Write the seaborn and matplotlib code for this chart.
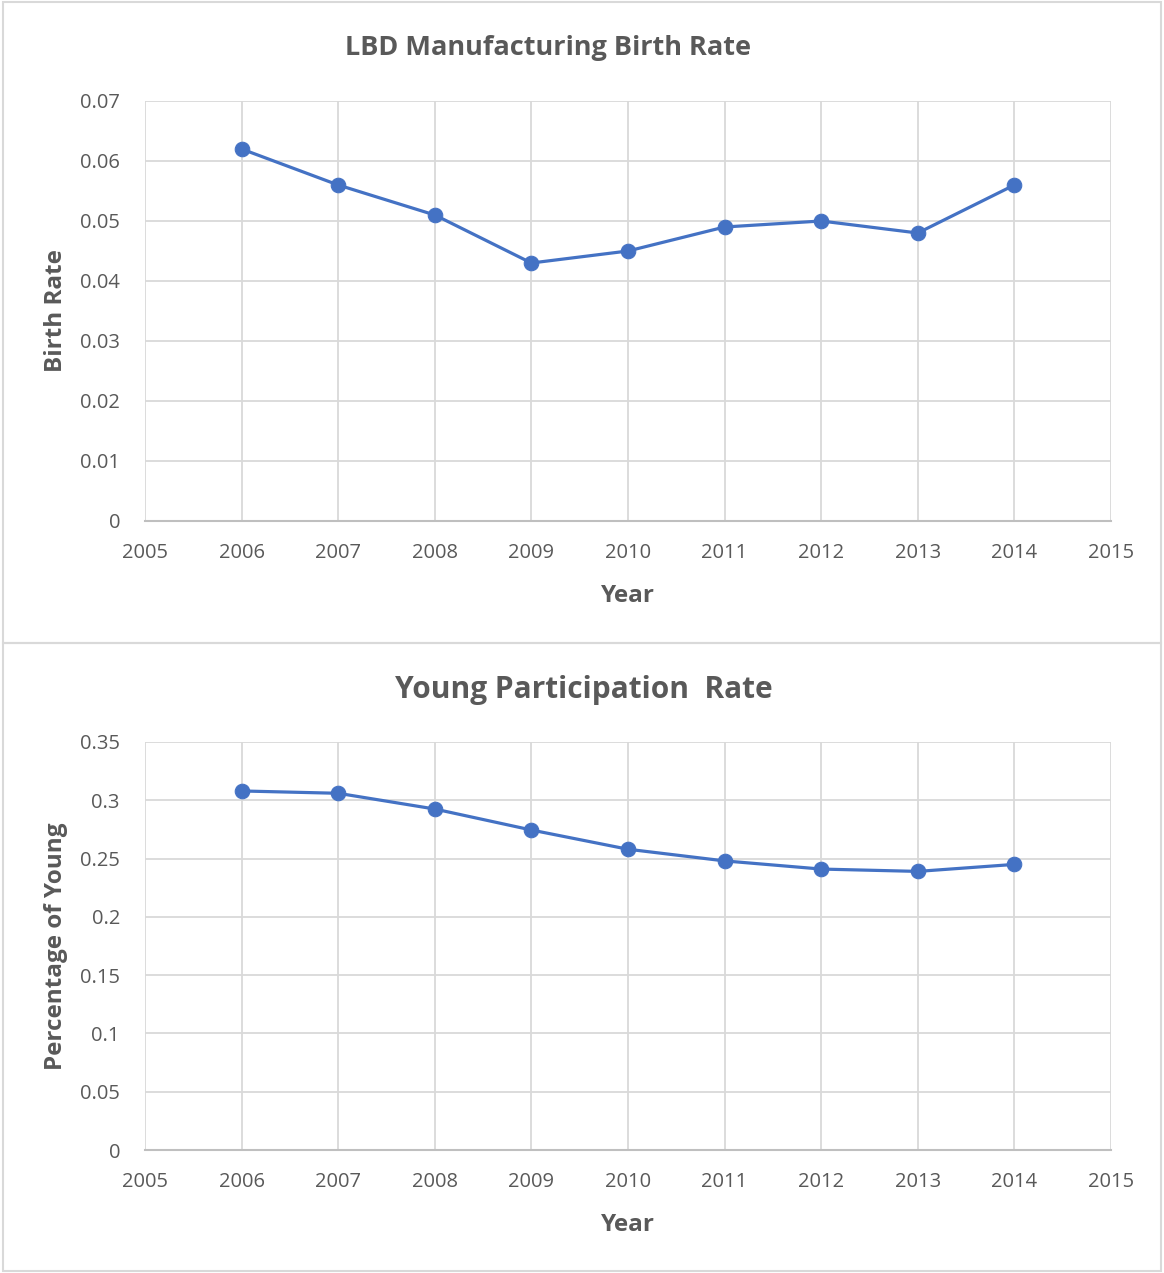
import numpy as np
import pandas as pd
import matplotlib
matplotlib.use("Agg")
import matplotlib.pyplot as plt
from matplotlib.patches import Rectangle
import seaborn as sns

# ==========================================
# DATA
# ==========================================
years = [2006, 2007, 2008, 2009, 2010, 2011, 2012, 2013, 2014]
birth_rate = [0.062, 0.056, 0.051, 0.043, 0.045, 0.049, 0.050, 0.048, 0.056]
young_rate = [0.308, 0.306, 0.2925, 0.2745, 0.258, 0.248, 0.241, 0.239, 0.245]

x_ticks = [2005, 2006, 2007, 2008, 2009, 2010, 2011, 2012, 2013, 2014, 2015]
birth_ticks = [0, 0.01, 0.02, 0.03, 0.04, 0.05, 0.06, 0.07]
birth_labels = ["0", "0.01", "0.02", "0.03", "0.04", "0.05", "0.06", "0.07"]
young_ticks = [0, 0.05, 0.1, 0.15, 0.2, 0.25, 0.3, 0.35]
young_labels = ["0", "0.05", "0.1", "0.15", "0.2", "0.25", "0.3", "0.35"]

# ==========================================
# STYLE
# ==========================================
sns.set_style("white")
plt.rcParams['font.family'] = ['Open Sans', 'DejaVu Sans']

LINE_COLOR = '#4472C4'
GRID_COLOR = '#d9d9d9'
TEXT_COLOR = '#595959'
W, H = 1164, 1273

fig = plt.figure(figsize=(W / 100, H / 100), dpi=100)


def px_axes(left, top, right, bottom):
    return fig.add_axes([left / W, 1 - bottom / H, (right - left) / W, (bottom - top) / H])


def draw_panel(ax, values, yticks, ylabels, ylim):
    df = pd.DataFrame({'Year': years, 'Value': values})
    sns.lineplot(data=df, x='Year', y='Value', ax=ax, color=LINE_COLOR,
                 linewidth=2.3, marker='o', markersize=10.5,
                 markeredgecolor=LINE_COLOR, markerfacecolor=LINE_COLOR)
    ax.set_xlim(2005, 2015)
    ax.set_ylim(*ylim)
    ax.set_xticks(x_ticks)
    ax.set_xticklabels([str(t) for t in x_ticks])
    ax.set_yticks(yticks)
    ax.set_yticklabels(ylabels)
    ax.grid(True, color=GRID_COLOR, linewidth=1.3)
    ax.set_axisbelow(True)
    for side in ['top', 'right', 'left']:
        ax.spines[side].set_visible(False)
    ax.spines['bottom'].set_color('#bfbfbf')
    ax.spines['bottom'].set_linewidth(1.5)
    ax.tick_params(axis='both', length=0, labelsize=14.5, labelcolor=TEXT_COLOR)
    ax.tick_params(axis='x', pad=16)
    ax.tick_params(axis='y', pad=18)
    ax.set_xlabel('')
    ax.set_ylabel('')


# ==========================================
# TOP CHART
# ==========================================
ax1 = px_axes(145, 101, 1111, 521)
draw_panel(ax1, birth_rate, birth_ticks, birth_labels, (0, 0.07))

# ==========================================
# BOTTOM CHART
# ==========================================
ax2 = px_axes(145, 742, 1111, 1150)
draw_panel(ax2, young_rate, young_ticks, young_labels, (0, 0.35))

# text
fig.text(548 / W, 1 - 48 / H, 'LBD Manufacturing Birth Rate', ha='center', va='center',
         fontsize=19.5, fontweight='bold', color=TEXT_COLOR)
fig.text(628 / W, 1 - 596 / H, 'Year', ha='center', va='center',
         fontsize=17.5, fontweight='bold', color=TEXT_COLOR)
fig.text(56 / W, 1 - 311 / H, 'Birth Rate', ha='center', va='center', rotation=90,
         fontsize=17.5, fontweight='bold', color=TEXT_COLOR)

fig.text(584 / W, 1 - 690 / H, 'Young Participation  Rate', ha='center', va='center',
         fontsize=21.5, fontweight='bold', color=TEXT_COLOR)
fig.text(628 / W, 1 - 1225 / H, 'Year', ha='center', va='center',
         fontsize=17.5, fontweight='bold', color=TEXT_COLOR)
fig.text(56 / W, 1 - 946 / H, 'Percentage of Young', ha='center', va='center', rotation=90,
         fontsize=17.5, fontweight='bold', color=TEXT_COLOR)

# chart borders
fig.patches.append(Rectangle((3 / W, 1 - 643 / H), (1161 - 3) / W, (643 - 2) / H,
                             transform=fig.transFigure, fill=False,
                             edgecolor=GRID_COLOR, linewidth=1.5))
fig.patches.append(Rectangle((3 / W, 1 - 1271 / H), (1161 - 3) / W, (1271 - 643) / H,
                             transform=fig.transFigure, fill=False,
                             edgecolor=GRID_COLOR, linewidth=1.5))

fig.savefig('out.png', dpi=100, facecolor='white')
